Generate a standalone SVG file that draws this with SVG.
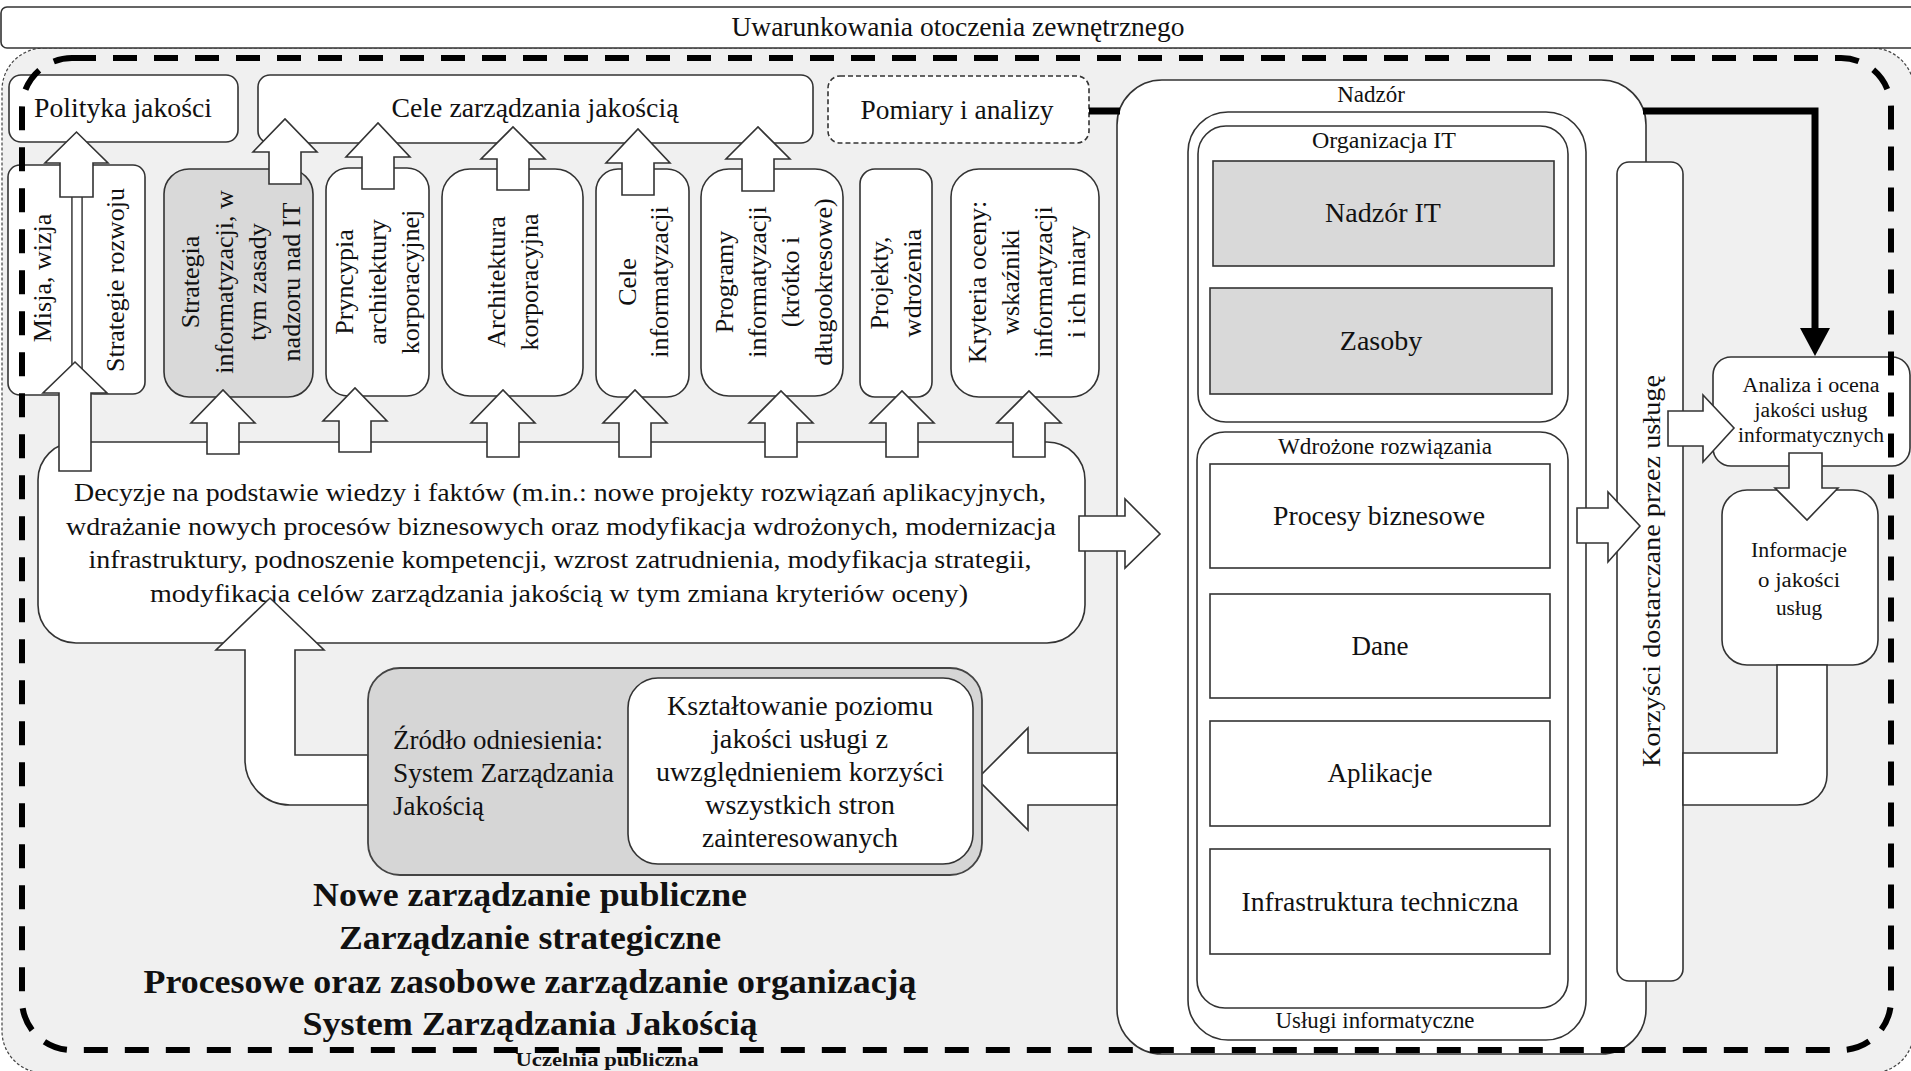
<svg xmlns="http://www.w3.org/2000/svg" width="1911" height="1071" viewBox="0 0 1911 1071">
<style>
.box{fill:#fff;stroke:#333;stroke-width:1.6}
.gbox{fill:#d9d9d9;stroke:#333;stroke-width:1.6}
.arr{fill:#fff;stroke:#333;stroke-width:1.6;stroke-linejoin:miter}
.t{font-family:"Liberation Serif","Times New Roman",serif;fill:#111}
.c{text-anchor:middle}
.f27{font-size:27px}
.f26{font-size:26px}
.f23{font-size:23px}
.f20{font-size:20px}
.f28{font-size:28px}
.b34{font-size:34px;font-weight:bold}
</style>
<rect x="0" y="0" width="1911" height="1071" fill="#fff"/>
<g id="frame-outer">
<rect x="2" y="48" width="1912" height="1025" rx="42" fill="#f0f0f0" stroke="#444" stroke-width="1.2" stroke-dasharray="3 2"/>
</g>
<g id="title">
<rect class="box" x="1" y="7" width="1920" height="41" rx="6"/>
<text class="t c f27" x="958" y="36" textLength="453" lengthAdjust="spacingAndGlyphs">Uwarunkowania otoczenia zewnętrznego</text>
</g>
<g id="polityka">
<rect class="box" x="9" y="75" width="229" height="67" rx="12"/>
<text class="t c f27" x="123" y="117" textLength="178" lengthAdjust="spacingAndGlyphs">Polityka jakości</text>
</g>
<g id="cele-zarzadzania">
<rect class="box" x="258" y="75" width="555" height="68" rx="12"/>
<text class="t c f27" x="535" y="117" textLength="287" lengthAdjust="spacingAndGlyphs">Cele zarządzania jakością</text>
</g>
<g id="pomiary">
<rect class="box" x="828" y="76" width="261" height="67" rx="12" stroke-dasharray="5 3"/>
<text class="t c f27" x="957" y="119" textLength="193" lengthAdjust="spacingAndGlyphs">Pomiary i analizy</text>
</g>
<g id="misja">
<rect class="box" x="8" y="165" width="64" height="230" rx="12"/>
<text class="t c f26" transform="translate(0,278) rotate(-90)"><tspan x="0" y="51">Misja, wizja</tspan></text>
</g>
<g id="strategie-rozwoju">
<rect class="box" x="82" y="165" width="63" height="229" rx="12"/>
<text class="t c f26" transform="translate(0,280) rotate(-90)"><tspan x="0" y="124">Strategie rozwoju</tspan></text>
</g>
<g id="strategia-informatyzacji">
<rect class="gbox" x="164" y="169" width="149" height="228" rx="25"/>
<text class="t c f26" transform="translate(0,282) rotate(-90)"><tspan x="0" y="199">Strategia</tspan><tspan x="0" y="233">informatyzacji, w</tspan><tspan x="0" y="266">tym zasady</tspan><tspan x="0" y="300">nadzoru nad IT</tspan></text>
</g>
<g id="pryncypia">
<rect class="box" x="326" y="168" width="103" height="228" rx="22"/>
<text class="t c f26" transform="translate(0,282) rotate(-90)"><tspan x="0" y="353">Pryncypia</tspan><tspan x="0" y="386">architektury</tspan><tspan x="0" y="419">korporacyjnej</tspan></text>
</g>
<g id="architektura">
<rect class="box" x="442" y="169" width="141" height="227" rx="28"/>
<text class="t c f26" transform="translate(0,282) rotate(-90)"><tspan x="0" y="505">Architektura</tspan><tspan x="0" y="538">korporacyjna</tspan></text>
</g>
<g id="cele-informatyzacji">
<rect class="box" x="596" y="169" width="93" height="228" rx="22"/>
<text class="t c f26" transform="translate(0,282) rotate(-90)"><tspan x="0" y="636">Cele</tspan><tspan x="0" y="668">informatyzacji</tspan></text>
</g>
<g id="programy">
<rect class="box" x="701" y="169" width="142" height="227" rx="28"/>
<text class="t c f26" transform="translate(0,282) rotate(-90)"><tspan x="0" y="733">Programy</tspan><tspan x="0" y="766">informatyzacji</tspan><tspan x="0" y="799">(krótko i</tspan><tspan x="0" y="832">długookresowe)</tspan></text>
</g>
<g id="projekty">
<rect class="box" x="860" y="169" width="72" height="228" rx="15"/>
<text class="t c f26" transform="translate(0,283) rotate(-90)"><tspan x="0" y="888">Projekty,</tspan><tspan x="0" y="921">wdrożenia</tspan></text>
</g>
<g id="kryteria">
<rect class="box" x="951" y="169" width="148" height="228" rx="28"/>
<text class="t c f26" transform="translate(0,282) rotate(-90)"><tspan x="0" y="986">Kryteria oceny:</tspan><tspan x="0" y="1019">wskaźniki</tspan><tspan x="0" y="1052">informatyzacji</tspan><tspan x="0" y="1085">i ich miary</tspan></text>
</g>
<g id="decyzje">
<rect class="box" x="38" y="442" width="1047" height="201" rx="38"/>
<text class="t c f26" x="560" y="501" textLength="972" lengthAdjust="spacingAndGlyphs">Decyzje na podstawie wiedzy i faktów (m.in.: nowe projekty rozwiązań aplikacyjnych,</text>
<text class="t c f26" x="561" y="535" textLength="990" lengthAdjust="spacingAndGlyphs">wdrażanie nowych procesów biznesowych oraz modyfikacja wdrożonych, modernizacja</text>
<text class="t c f26" x="560" y="568" textLength="943" lengthAdjust="spacingAndGlyphs">infrastruktury, podnoszenie kompetencji, wzrost zatrudnienia, modyfikacja strategii,</text>
<text class="t c f26" x="559" y="602" textLength="818" lengthAdjust="spacingAndGlyphs">modyfikacja celów zarządzania jakością w tym zmiana kryteriów oceny)</text>
</g>
<g id="nadzor">
<rect class="box" x="1117" y="80" width="529" height="974" rx="45"/>
<text class="t c f23" x="1371" y="102">Nadzór</text>
<rect class="box" x="1188" y="112" width="398" height="928" rx="40"/>
<text class="t c f23" x="1375" y="1028" textLength="199" lengthAdjust="spacingAndGlyphs">Usługi informatyczne</text>
</g>
<g id="organizacja-it">
<rect class="box" x="1198" y="126" width="370" height="296" rx="28"/>
<text class="t c f23" x="1384" y="148" textLength="144" lengthAdjust="spacingAndGlyphs">Organizacja IT</text>
</g>
<g id="nadzor-it">
<rect class="gbox" x="1213" y="161" width="341" height="105"/>
<text class="t c f28" x="1383" y="222">Nadzór IT</text>
</g>
<g id="zasoby">
<rect class="gbox" x="1210" y="288" width="342" height="106"/>
<text class="t c f28" x="1381" y="350">Zasoby</text>
</g>
<g id="wdrozone">
<rect class="box" x="1197" y="432" width="371" height="576" rx="28"/>
<text class="t c f23" x="1385" y="454" textLength="214" lengthAdjust="spacingAndGlyphs">Wdrożone rozwiązania</text>
</g>
<g id="procesy">
<rect class="box" x="1210" y="464" width="340" height="104"/>
<text class="t c f27" x="1379" y="525" textLength="212" lengthAdjust="spacingAndGlyphs">Procesy biznesowe</text>
</g>
<g id="dane">
<rect class="box" x="1210" y="594" width="340" height="104"/>
<text class="t c f27" x="1380" y="655">Dane</text>
</g>
<g id="aplikacje">
<rect class="box" x="1210" y="721" width="340" height="105"/>
<text class="t c f27" x="1380" y="782">Aplikacje</text>
</g>
<g id="infrastruktura">
<rect class="box" x="1210" y="849" width="340" height="105"/>
<text class="t c f27" x="1380" y="911" textLength="277" lengthAdjust="spacingAndGlyphs">Infrastruktura techniczna</text>
</g>
<g id="korzysci">
<rect class="box" x="1617" y="162" width="66" height="819" rx="12"/>
<text class="t c f26" transform="translate(0,571) rotate(-90)"><tspan x="0" y="1660" textLength="392" lengthAdjust="spacingAndGlyphs">Korzyści dostarczane przez usługę</tspan></text>
</g>
<g id="analiza">
<rect class="box" x="1713" y="357" width="197" height="109" rx="18"/>
<text class="t c f20" x="1811" y="392" textLength="137" lengthAdjust="spacingAndGlyphs">Analiza i ocena</text>
<text class="t c f20" x="1811" y="417" textLength="113" lengthAdjust="spacingAndGlyphs">jakości usług</text>
<text class="t c f20" x="1811" y="442" textLength="146" lengthAdjust="spacingAndGlyphs">informatycznych</text>
</g>
<g id="informacje">
<rect class="box" x="1722" y="490" width="156" height="175" rx="25"/>
<text class="t c f20" x="1799" y="557" textLength="96" lengthAdjust="spacingAndGlyphs">Informacje</text>
<text class="t c f20" x="1799" y="587" textLength="82" lengthAdjust="spacingAndGlyphs">o jakości</text>
<text class="t c f20" x="1799" y="615" textLength="46" lengthAdjust="spacingAndGlyphs">usług</text>
</g>
<g id="connectors">
<path d="M1089,111 H1120" stroke="#000" stroke-width="7" fill="none"/>
<path d="M1643,111 H1815 V332" stroke="#000" stroke-width="7" fill="none" stroke-linejoin="miter"/>
<polygon points="1800,328 1830,328 1815,356" fill="#000"/>
<path class="arr" d="M1683,753 H1777 V665 H1827 V775 A30,30 0 0 1 1797,805 H1683 Z"/>
<path class="arr" d="M1117,753 H1028 V728 L977,779 L1028,830 V805 H1117 Z"/>
<rect x="72.8" y="192" width="8.4" height="176" fill="#fff"/>
<path class="arr" d="M60,197 V163 H45 L76.5,132 L108,163 H93 V197 Z"/>
<path class="arr" d="M269,184 V152 H253 L285,119 L317,152 H301 V184 Z"/>
<path class="arr" d="M362,189 V157 H346 L378,123 L410,157 H394 V189 Z"/>
<path class="arr" d="M497,190 V159 H481 L513,127 L545,159 H529 V190 Z"/>
<path class="arr" d="M622,195 V163 H606 L638,129 L670,163 H654 V195 Z"/>
<path class="arr" d="M742,191 V159 H726 L758,127 L790,159 H774 V191 Z"/>
<path class="arr" d="M59,471 V393 H43 L75,362 L107,393 H91 V471 Z"/>
<path class="arr" d="M207,454 V423 H191 L223,390 L255,423 H239 V454 Z"/>
<path class="arr" d="M339,452 V421 H323 L355,388 L387,421 H371 V452 Z"/>
<path class="arr" d="M487,457 V423 H471 L503,390 L535,423 H519 V457 Z"/>
<path class="arr" d="M619,457 V423 H603 L635,390 L667,423 H651 V457 Z"/>
<path class="arr" d="M765,457 V423 H749 L781,391 L813,423 H797 V457 Z"/>
<path class="arr" d="M886,457 V423 H870 L902,391 L934,423 H918 V457 Z"/>
<path class="arr" d="M1013,457 V423 H997 L1029,391 L1061,423 H1045 V457 Z"/>
<path class="arr" d="M1079,516 H1125 V499 L1160,534 L1125,568 V551 H1079 Z"/>
<path class="arr" d="M1577,508 H1608 V492 L1640,526 L1608,562 V543 H1577 Z"/>
<path class="arr" d="M1668,411 H1703 V395 L1734,428 L1703,462 V446 H1668 Z"/>
<path class="arr" d="M1789,453 H1822 V488 H1838 L1807,520 L1775,488 H1789 Z"/>
<path class="arr" d="M368,755 H295 V650 H324 L270,598 L216,650 H245 V760 A45,45 0 0 0 290,805 H368 Z"/>
</g>
<g id="zrodlo">
<rect x="368" y="668" width="614" height="207" rx="32" fill="#d6d6d6" stroke="#444" stroke-width="1.8"/>
<text class="t f27" x="393" y="749" textLength="210" lengthAdjust="spacingAndGlyphs">Źródło odniesienia:</text>
<text class="t f27" x="393" y="782" textLength="221" lengthAdjust="spacingAndGlyphs">System Zarządzania</text>
<text class="t f27" x="393" y="815" textLength="91" lengthAdjust="spacingAndGlyphs">Jakością</text>
</g>
<g id="ksztaltowanie">
<rect class="box" x="628" y="678" width="345" height="186" rx="30"/>
<text class="t c f27" x="800" y="715" textLength="266" lengthAdjust="spacingAndGlyphs">Kształtowanie poziomu</text>
<text class="t c f27" x="800" y="748" textLength="176" lengthAdjust="spacingAndGlyphs">jakości usługi z</text>
<text class="t c f27" x="800" y="781" textLength="288" lengthAdjust="spacingAndGlyphs">uwzględnieniem korzyści</text>
<text class="t c f27" x="800" y="814" textLength="190" lengthAdjust="spacingAndGlyphs">wszystkich stron</text>
<text class="t c f27" x="800" y="847" textLength="196" lengthAdjust="spacingAndGlyphs">zainteresowanych</text>
</g>
<g id="podstawy">
<text class="t c b34" x="530" y="906" textLength="434" lengthAdjust="spacingAndGlyphs">Nowe zarządzanie publiczne</text>
<text class="t c b34" x="530" y="949" textLength="382" lengthAdjust="spacingAndGlyphs">Zarządzanie strategiczne</text>
<text class="t c b34" x="530" y="993" textLength="773" lengthAdjust="spacingAndGlyphs">Procesowe oraz zasobowe zarządzanie organizacją</text>
<text class="t c b34" x="530" y="1035" textLength="455" lengthAdjust="spacingAndGlyphs">System Zarządzania Jakością</text>
</g>
<g id="uczelnia">
<text class="t c" x="607" y="1066" font-size="18" font-weight="bold" textLength="183" lengthAdjust="spacingAndGlyphs">Uczelnia publiczna</text>
<rect x="22" y="58" width="1869" height="992" rx="50" fill="none" stroke="#000" stroke-width="6" stroke-dasharray="24 17"/>
</g>
</svg>
